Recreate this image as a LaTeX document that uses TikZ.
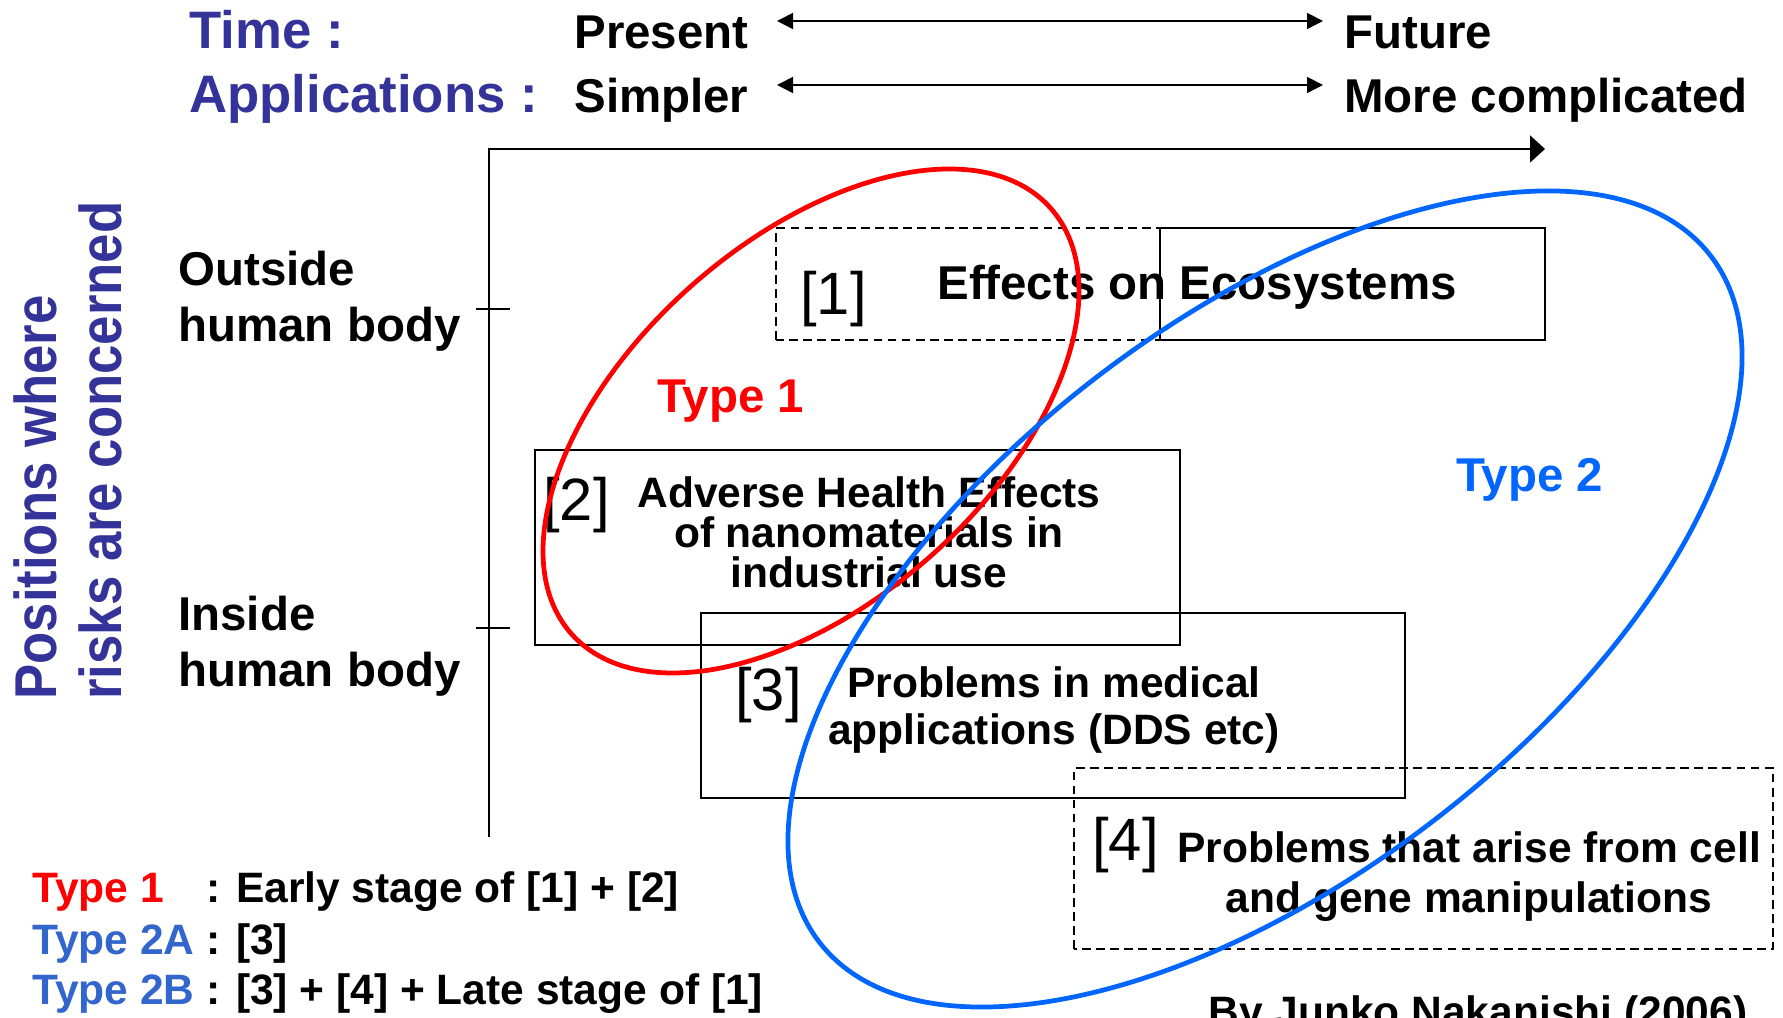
\documentclass[tikz,border=0pt]{standalone}
\usepackage{fontspec}
\usepackage{graphicx}
\setmainfont{Liberation Sans}
\usetikzlibrary{arrows.meta}

\definecolor{headblue}{RGB}{51,51,153}
\definecolor{typeblue}{RGB}{0,102,255}
\definecolor{keyblue}{RGB}{51,102,204}

\begin{document}
\begin{tikzpicture}[
    every node/.style={inner sep=0pt},
    head/.style={font=\fontsize{30}{36}\selectfont\bfseries},
    lab/.style={font=\fontsize{27}{32.4}\selectfont\bfseries},
    txt/.style={font=\fontsize{24.2}{29}\selectfont\bfseries},
    num/.style={font=\fontsize{34}{40}\selectfont},
    box/.style={line width=1pt},
    dbox/.style={line width=1pt, dash pattern=on 5pt off 3pt},
    ring/.style={line width=2.7pt},
    span/.style={line width=0.9pt, {Triangle[length=0.32cm,width=0.32cm]}-{Triangle[length=0.32cm,width=0.32cm]}}
]
    \useasboundingbox (0,0) rectangle (35.66,20.36);
    \clip (0,0) rectangle (35.66,20.36);

    % header rows
    \node[head, headblue, anchor=base west] (time) at (3.78,19.38) {Time :};
    \node[head, headblue, anchor=base west] (appl) at (3.78,18.10) {Applications :};
    \node[lab, anchor=base west] (present) at (11.48,19.38) {Present};
    \node[lab, anchor=base west] (simpler) at (11.48,18.10) {Simpler};
    \node[lab, anchor=base west] (future) at (26.88,19.38) {Future};
    \node[lab, anchor=base west] (complex) at (26.88,18.10) {More complicated};

    \coordinate (T1) at (15.54,19.94);
    \coordinate (T2) at (26.46,19.94);
    \coordinate (A1) at (15.54,18.66);
    \coordinate (A2) at (26.46,18.66);
    \draw[span] (T1) -- (T2);
    \draw[span] (A1) -- (A2);

    % axes
    \coordinate (O) at (9.78,3.62);
    \coordinate (C) at (9.78,17.38);
    \coordinate (X) at (30.90,17.38);
    \draw[line width=0.9pt, -{Triangle[length=0.30cm,width=0.54cm]}] (O) -- (C) -- (X);
    \draw[line width=0.9pt] (9.52,14.18) -- (10.20,14.18);
    \draw[line width=0.9pt] (9.52,7.80) -- (10.20,7.80);

    % vertical axis title
    \node[head, headblue, rotate=90, anchor=base west] (pos1) at (1.12,6.36) {\scalebox{1}[1.12]{Positions where}};
    \node[head, headblue, rotate=90, anchor=base west] (pos2) at (2.42,6.36) {\scalebox{1}[1.12]{risks are concerned}};

    % row labels (base = last line)
    \node[lab, anchor=base west, align=left] (outside) at (3.56,13.52) {Outside\\human body};
    \node[lab, anchor=base west, align=left] (inside) at (3.56,6.62) {Inside\\human body};

    % [1]
    \draw[dbox] (15.52,13.56) rectangle (23.20,15.80);
    \draw[box] (23.20,13.56) rectangle (30.90,15.80);
    \node[num, anchor=base west] (n1) at (16.00,14.06) {[1]};
    \node[lab, anchor=base west] (eco) at (18.74,14.36) {Effects on Ecosystems};

    % [2]
    \draw[box] (10.70,7.46) rectangle (23.60,11.36);
    \node[num, anchor=base west] (n2) at (10.86,9.94) {[2]};
    \node[font=\fontsize{24.2}{23}\selectfont\bfseries, anchor=base, align=center] (health) at (17.38,8.60)
        {Adverse Health Effects\\of nanomaterials in\\industrial use};

    % [3]
    \draw[box] (14.02,4.40) rectangle (28.10,8.10);
    \node[num, anchor=base west] (n3) at (14.70,6.14) {[3]};
    \node[font=\fontsize{24.2}{27.3}\selectfont\bfseries, anchor=base, align=center] (medical) at (21.08,5.46)
        {Problems in medical\\applications (DDS etc)};

    % [4]
    \draw[dbox] (21.48,1.38) rectangle (35.46,5.00);
    \node[num, anchor=base west] (n4) at (21.84,3.14) {[4]};
    \node[font=\fontsize{24.2}{28.5}\selectfont\bfseries, anchor=base, align=center] (gene) at (29.38,2.10)
        {Problems that arise from cell\\and gene manipulations};

    % type regions
    \draw[ring, red] (16.22,11.94) ellipse [x radius=6.41, y radius=3.61, rotate=41.6];
    \draw[ring, typeblue] (25.30,8.38) ellipse [x radius=11.25, y radius=5.57, rotate=37.6];
    \node[lab, red, anchor=base west] (type1) at (13.14,12.10) {Type 1};
    \node[lab, typeblue, anchor=base west] (type2) at (29.12,10.52) {Type 2};

    % key
    \node[txt, anchor=base west] (key1) at (0.64,2.30) {\makebox[3.24cm][l]{\color{red}Type 1} : Early stage of [1] + [2]};
    \node[txt, anchor=base west] (key2) at (0.64,1.26) {\makebox[3.24cm][l]{\color{keyblue}Type 2A} : [3]};
    \node[txt, anchor=base west] (key3) at (0.64,0.26) {\makebox[3.24cm][l]{\color{keyblue}Type 2B} : [3] + [4] + Late stage of [1]};

    \node[txt, anchor=base west] (author) at (24.16,-0.18) {By Junko Nakanishi (2006)};
\end{tikzpicture}
\end{document}
